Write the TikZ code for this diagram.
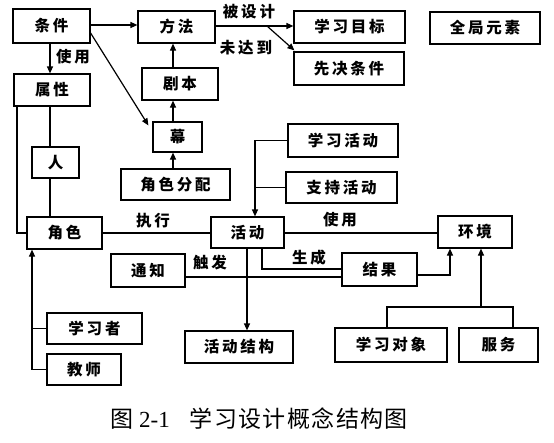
\documentclass[tikz,border=0pt]{standalone}
\usepackage{fontspec}
\newfontfamily\cjk{Noto Sans CJK SC}[LetterSpace=18]
\newfontfamily\cjkt{Noto Sans CJK SC}[LetterSpace=6]
\newfontfamily\serifdig{Liberation Serif}
\usetikzlibrary{arrows.meta}
\begin{document}
\begin{tikzpicture}[x=1pt,y=-1pt,
  box/.style={draw, line width=1.2pt, inner sep=0pt, font=\cjk\bfseries\fontsize{15.5}{15.5}\selectfont},
  lbl/.style={inner sep=0pt, font=\cjk\bfseries\fontsize{15.5}{15.5}\selectfont},
  conn/.style={line width=1.2pt},
  arr/.style={conn, -{Triangle[length=7pt,width=6pt]}}]
\useasboundingbox[fill=white] (0,0) rectangle (554,442);
% boxes
\node[box, minimum width=77pt, minimum height=34pt] (cond) at (51.5,26) {条件};
\node[box, minimum width=77pt, minimum height=32pt] (meth) at (176.5,27) {方法};
\node[box, minimum width=111pt, minimum height=32pt] (goal) at (349.5,27) {学习目标};
\node[box, minimum width=110pt, minimum height=32pt] (glob) at (485,28) {全局元素};
\node[box, minimum width=110pt, minimum height=33pt] (prereq) at (349,68.5) {先决条件};
\node[box, minimum width=76pt, minimum height=32pt] (attr) at (52,90) {属性};
\node[box, minimum width=76pt, minimum height=32pt] (script) at (180,84) {剧本};
\node[box, minimum width=49pt, minimum height=30pt] (act) at (177.5,137) {幕};
\node[box, minimum width=47pt, minimum height=31pt] (person) at (55.5,162.5) {人};
\node[box, minimum width=109pt, minimum height=31pt] (roleass) at (175.5,184.5) {角色分配};
\node[box, minimum width=110pt, minimum height=33pt] (lact) at (343,140.5) {学习活动};
\node[box, minimum width=111pt, minimum height=31pt] (sact) at (341.5,187.5) {支持活动};
\node[box, minimum width=75pt, minimum height=32pt] (role) at (64.5,233) {角色};
\node[box, minimum width=73pt, minimum height=31pt] (activity) at (247.5,232.5) {活动};
\node[box, minimum width=74pt, minimum height=32pt] (env) at (475,232) {环境};
\node[box, minimum width=74pt, minimum height=33pt] (notice) at (148,270.5) {通知};
\node[box, minimum width=75pt, minimum height=33pt] (result) at (379.5,269.5) {结果};
\node[box, minimum width=95pt, minimum height=31pt] (learner) at (94.5,328.5) {学习者};
\node[box, minimum width=74pt, minimum height=31pt] (teacher) at (84,369.5) {教师};
\node[box, minimum width=108pt, minimum height=32pt] (astruct) at (239,347) {活动结构};
\node[box, minimum width=112pt, minimum height=34pt] (lobj) at (391,345) {学习对象};
\node[box, minimum width=79pt, minimum height=34pt] (service) at (498.5,345) {服务};
% helper coordinates
\coordinate (c17) at (17,0);
\coordinate (c32) at (32,0);
\coordinate (c50) at (50,0);
\coordinate (c173) at (173,0);
\coordinate (c247) at (247,0);
\coordinate (c255) at (255,0);
\coordinate (c262) at (262,0);
\coordinate (c387) at (387,0);
\coordinate (c450) at (450,0);
\coordinate (c481) at (481,0);
\coordinate (c513) at (513,0);
\coordinate (r25) at (0,25);
\coordinate (r26) at (0,26);
\coordinate (r233) at (0,233);
\coordinate (r269) at (0,269);
\coordinate (r275) at (0,275);
\coordinate (r277) at (0,277);
\coordinate (r307) at (0,307);
\coordinate (split) at (267,26);
% connectors
\draw[arr] (cond.east |- r25) -- (meth.west |- r25);
\draw[arr] (cond.south -| c50) -- (attr.north -| c50);
\draw[arr] ([yshift=-7pt]cond.east) -- ([xshift=-4pt,yshift=-4pt]act.north west);
\draw[arr] (script.north -| c173) -- (meth.south -| c173);
\draw[arr] (act.north -| c173) -- (script.south -| c173);
\draw[arr] (roleass.north -| c173) -- (act.south -| c173);
\draw[arr] (meth.east |- r26) -- (goal.west |- r26);
\draw[arr] (split) -- ([xshift=1pt,yshift=1pt]prereq.north west);
\draw[conn] (attr.south -| c50) -- (person.north -| c50);
\draw[conn] (person.south -| c50) -- (role.north -| c50);
\draw[conn] (attr.south -| c17) |- (role.west);
\draw[conn] (role.east |- r233) -- (activity.west |- r233);
\draw[conn] (activity.east |- r233) -- (env.west |- r233);
\draw[arr] (lact.west) -| (activity.north -| c255);
\draw[conn] (sact.west) -- (sact.west -| c255);
\draw[arr] (activity.south -| c247) -- (astruct.north -| c247);
\draw[conn] (activity.south -| c262) |- (result.west |- r269);
\draw[conn] (notice.east |- r277) -- (result.west |- r277);
\draw[arr] (result.east |- r275) -| (env.south -| c450);
\draw[conn] (lobj.north -| c387) |- (r307 -| c513) -- (service.north -| c513);
\draw[arr] (r307 -| c481) -- (env.south -| c481);
\draw[arr] (teacher.west) -| (role.south -| c32);
\draw[conn] (learner.west) -- (learner.west -| c32);
% labels
\node[lbl] (l1) at (73,57) {使用};
\node[lbl] (l2) at (249,12) {被设计};
\node[lbl] (l3) at (246,48) {未达到};
\node[lbl] (l4) at (153,221) {执行};
\node[lbl] (l5) at (340,220) {使用};
\node[lbl] (l6) at (210,263) {触发};
\node[lbl] (l7) at (309,258) {生成};
% title
\node[anchor=west, inner sep=0pt, font=\fontsize{23}{23}\selectfont] (title) at (110,419) {\cjkt 图\hspace{6pt}\serifdig 2-1\hspace{20pt}\cjkt 学习设计概念结构图};
\end{tikzpicture}
\end{document}
